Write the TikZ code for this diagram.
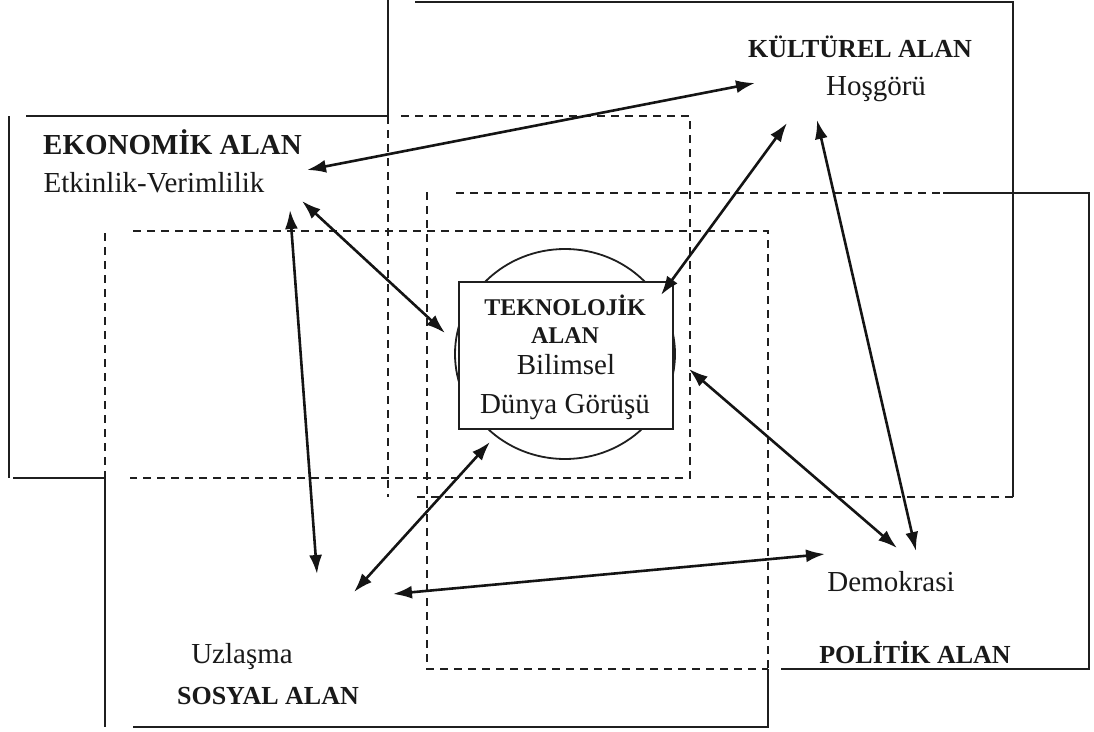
\documentclass[tikz,border=0pt]{standalone}
\usepackage{fontspec}
\setmainfont{Liberation Serif}
\usetikzlibrary{arrows.meta,shapes.geometric}
\begin{document}
\begin{tikzpicture}[x=1pt,y=-1pt,
  solidline/.style={line width=2.2pt, draw=black!88},
  dashline/.style={line width=1.8pt, draw=black!88, dash pattern=on 8pt off 6pt},
  link/.style={line width=2.6pt, draw=black!92, {Latex[length=19pt,width=13pt]}-{Latex[length=19pt,width=13pt]}},
  head/.style={font=\fontsize{26}{30}\selectfont\bfseries, anchor=base, inner sep=0pt, text=black!90},
  body/.style={font=\fontsize{29}{33}\selectfont, anchor=base, inner sep=0pt, text=black!90},
  techhead/.style={font=\fontsize{24}{28}\selectfont\bfseries, anchor=base, inner sep=0pt, text=black!90},
]
\useasboundingbox (0,0) rectangle (1094,731);
\fill[white] (0,0) rectangle (1094,731);

% EKONOMIK box
\draw[solidline] (26,116) -- (388,116);
\draw[solidline] (9,116) -- (9,478);
\draw[solidline] (13,478) -- (105,478);
\draw[dashline] (401,116) -- (690,116) -- (690,478) -- (130,478);

% KULTUREL box
\draw[solidline] (388,0) -- (388,116);
\draw[solidline] (415,2) -- (1013,2) -- (1013,497);
\draw[dashline] (388,116) -- (388,497);
\draw[dashline] (1013,497) -- (415,497);

% POLITIK box
\draw[dashline] (456,193) -- (943,193);
\draw[solidline] (943,193) -- (1089,193) -- (1089,669) -- (781,669);
\draw[dashline] (427,192) -- (427,669) -- (768,669);

% SOSYAL box
\draw[dashline] (133,231) -- (768,231) -- (768,669);
\draw[dashline] (105,233) -- (105,478);
\draw[solidline] (105,478) -- (105,727);
\draw[solidline] (133,727) -- (768,727) -- (768,669);

% TEKNOLOJIK
\node[draw=black!88, line width=1.8pt, ellipse, minimum width=220pt, minimum height=210pt, inner sep=0pt] (techell) at (565,354) {};
\node[draw=black!88, line width=2.2pt, fill=white, rectangle, minimum width=214pt, minimum height=147pt, inner sep=0pt] (tech) at (566,355.5) {};
\node[techhead] (tk1) at (565,315) {TEKNOLOJİK};
\node[techhead] (tk2) at (565,343) {ALAN};
\node[body] (tk3) at (566,374) {Bilimsel};
\node[body] (tk4) at (565,413) {Dünya Görüşü};

% labels
\node[head, font=\fontsize{29}{33}\selectfont\bfseries] (ekt) at (172.5,154) {EKONOMİK ALAN};
\node[body] (ekv) at (154,192) {Etkinlik-Verimlilik};
\node[head] (kut) at (860,57) {KÜLTÜREL ALAN};
\node[body] (kuv) at (876,95) {Hoşgörü};
\node[body] (pov) at (891,591) {Demokrasi};
\node[head] (pot) at (915,663) {POLİTİK ALAN};
\node[body] (sov) at (242,663) {Uzlaşma};
\node[head] (sot) at (268,704) {SOSYAL ALAN};

% arrow end points
\coordinate (a1s) at (307,170); \coordinate (a1e) at (755,83);
\coordinate (a2s) at (302,201); \coordinate (a2e) at (445,333);
\coordinate (a3s) at (290,210); \coordinate (a3e) at (317,574);
\coordinate (a4s) at (661,295); \coordinate (a4e) at (787,123);
\coordinate (a5s) at (817,120); \coordinate (a5e) at (916,551);
\coordinate (a6s) at (689,369); \coordinate (a6e) at (897,548);
\coordinate (a7s) at (490,442); \coordinate (a7e) at (354,592);
\coordinate (a8s) at (393,594); \coordinate (a8e) at (825,554);

\draw[link] (a1s) -- (a1e);
\draw[link] (a2s) -- (a2e);
\draw[link] (a3s) -- (a3e);
\draw[link] (a4s) -- (a4e);
\draw[link] (a5s) -- (a5e);
\draw[link] (a6s) -- (a6e);
\draw[link] (a7s) -- (a7e);
\draw[link] (a8s) -- (a8e);
\end{tikzpicture}
\end{document}
